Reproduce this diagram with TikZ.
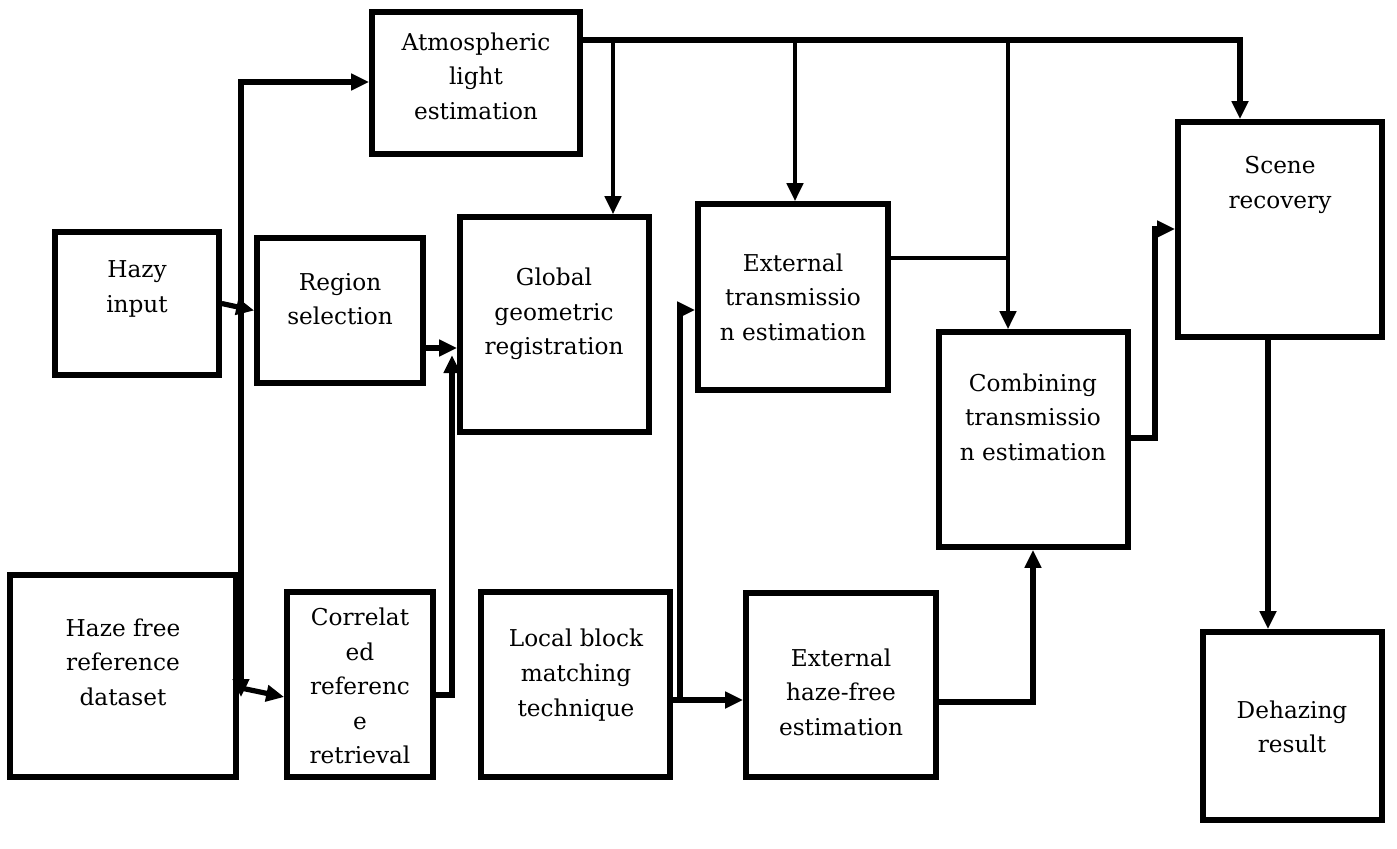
\documentclass[tikz,border=0pt]{standalone}
\usepackage{fontspec}
\setmainfont{DejaVu Serif}
\usetikzlibrary{arrows.meta,fit}
\begin{document}
\begin{tikzpicture}[x=0.5pt,y=-0.5pt,
  box/.style={draw, line width=2.8pt, rectangle, inner sep=0pt},
  lbl/.style={align=center, font=\fontsize{11.6}{17.3}\selectfont, inner sep=0pt},
  conn/.style={line width=2.6pt, line join=miter},
  thin/.style={line width=2.1pt},
  tip/.style={-{Triangle[length=9pt,width=8pt]}}]
\useasboundingbox (0,0) rectangle (1397,848);
% boxes
\node[box, fit={(372,12) (580,154)}] (atm) {};
\node[box, fit={(55,232) (219,375)}] (hazy) {};
\node[box, fit={(257,238) (423,383)}] (region) {};
\node[box, fit={(460,217) (649,432)}] (global) {};
\node[box, fit={(698,204) (888,390)}] (exttr) {};
\node[box, fit={(939,332) (1128,547)}] (comb) {};
\node[box, fit={(1178,122) (1382,337)}] (scene) {};
\node[box, fit={(10,575) (236,777)}] (hfree) {};
\node[box, fit={(287,592) (433,777)}] (corr) {};
\node[box, fit={(481,592) (670,777)}] (local) {};
\node[box, fit={(746,593) (936,777)}] (exthf) {};
\node[box, fit={(1203,632) (1382,820)}] (dehaze) {};
% texts
\node[lbl] (tatm) at (476,76) {Atmospheric\\light\\estimation};
\node[lbl] (thazy) at (137,289) {Hazy\\input};
\node[lbl] (tregion) at (340,299) {Region\\selection};
\node[lbl] (tglobal) at (554,314) {Global\\geometric\\registration};
\node[lbl] (texttr) at (793,297) {External\\transmissio\\n estimation};
\node[lbl] (tcomb) at (1033,417) {Combining\\transmissio\\n estimation};
\node[lbl] (tscene) at (1280,185) {Scene\\recovery};
\node[lbl] (thfree) at (123,662) {Haze free\\reference\\dataset};
\node[lbl] (tcorr) at (360,686) {Correlat\\ed\\referenc\\e\\retrieval};
\node[lbl] (tlocal) at (576,675) {Local block\\matching\\technique};
\node[lbl] (texthf) at (841,692) {External\\haze-free\\estimation};
\node[lbl] (tdehaze) at (1292,727) {Dehazing\\result};
% coordinates
\coordinate (vt) at (241,82);
\coordinate (vb) at (241,697);
\coordinate (vj) at (241,688);
\coordinate (rg) at (440,348);
\coordinate (c1) at (452,695);
\coordinate (c2) at (452,355);
\coordinate (bus) at (600,40);
\coordinate (be) at (1240,40);
\coordinate (d1) at (613,40);
\coordinate (d2) at (795,40);
\coordinate (d3) at (1008,40);
\coordinate (e1) at (1008,258);
\coordinate (l1) at (680,700);
\coordinate (l2) at (680,310);
\coordinate (h1) at (1033,702);
\coordinate (s1) at (1155,438);
\coordinate (s2) at (1155,229);
\coordinate (sd) at (1268,337);
% connectors
\draw[conn,{Triangle[length=9pt,width=8pt]}-{Triangle[length=9pt,width=8pt]}] (vb) -- (vt) -- (atm.west |- vt);
\draw[conn,tip] (hazy.east) -- (region.west);
\draw[conn,tip] (vj) -- (corr.west |- vb);
\draw[conn,tip] (region.east |- rg) -- (global.west |- rg);
\draw[conn,tip] (corr.east |- c1) -- (c1) -- (c2);
\draw[conn,line width=2.9pt,tip] (atm.east |- bus) -- (be) -- (scene.north -| be);
\draw[thin,tip] (d1) -- (global.north -| d1);
\draw[thin,tip] (d2) -- (exttr.north -| d2);
\draw[thin,tip] (d3) -- (comb.north -| d3);
\draw[thin] (exttr.east |- e1) -- (e1);
\draw[conn,tip] (local.east |- l1) -- (exthf.west |- l1);
\draw[conn,tip] (l1) -- (l2) -- (exttr.west |- l2);
\draw[conn,tip] (exthf.east |- h1) -- (h1) -- (comb.south -| h1);
\draw[conn,tip] (comb.east |- s1) -- (s1) -- (s2) -- (scene.west |- s2);
\draw[conn,tip] (scene.south -| sd) -- (dehaze.north -| sd);
\end{tikzpicture}
\end{document}
